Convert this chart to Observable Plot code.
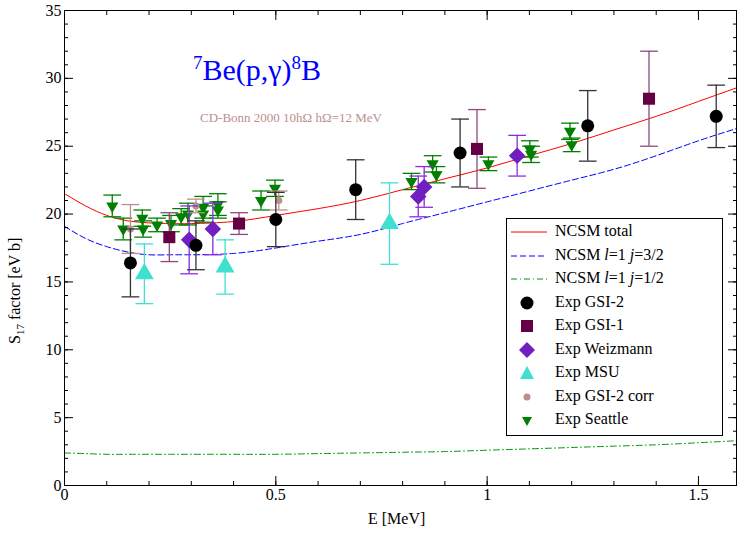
<!DOCTYPE html>
<html><head><meta charset="utf-8">
<script src="https://cdn.jsdelivr.net/npm/d3@7"></script>
<script src="https://cdn.jsdelivr.net/npm/@observablehq/plot@0.6"></script>
<style>
body{margin:0;background:#fff;font-family:"Liberation Serif",serif}
#wrap{position:relative;width:738px;height:533px}
.ov{position:absolute;white-space:nowrap}
#legend{position:absolute;left:506px;top:218px;width:215px;height:216px;border:1px solid #000;background:#fff;font-size:16px}
#legend .row{position:absolute;left:0;height:20px}
#legend span.t{position:absolute;left:48px}
</style></head><body>
<div id="wrap"></div>
<script>
// model curves (E in MeV)
const curveE     = [0, 0.05, 0.1, 0.15, 0.2, 0.25, 0.3, 0.4, 0.5, 0.6, 0.7, 0.8, 0.9, 1.0, 1.1, 1.2, 1.3, 1.4, 1.5, 1.59];
const ncsmTotal  = [21.5, 20.6, 19.9, 19.5, 19.35, 19.3, 19.3, 19.45, 19.9, 20.4, 21.0, 21.8, 22.6, 23.4, 24.3, 25.2, 26.2, 27.2, 28.3, 29.3];
const ncsm32     = [19.1, 18.2, 17.6, 17.2, 17.0, 17.0, 17.0, 17.1, 17.5, 18.0, 18.5, 19.3, 20.1, 20.9, 21.7, 22.5, 23.3, 24.3, 25.4, 26.3];
const ncsm12     = [2.4, 2.35, 2.3, 2.3, 2.3, 2.3, 2.3, 2.3, 2.3, 2.35, 2.4, 2.45, 2.5, 2.6, 2.7, 2.8, 2.9, 3.0, 3.15, 3.3];

// experiments: E, S, error
const gsi2E = [0.156, 0.311, 0.5, 0.689, 0.936, 1.238, 1.542];
const gsi2S = [16.4, 17.7, 19.6, 21.8, 24.5, 26.5, 27.2];
const gsi2D = [2.5, 1.8, 2.0, 2.2, 2.5, 2.6, 2.3];
const gsi1E = [0.248, 0.413, 0.976, 1.383];
const gsi1S = [18.3, 19.3, 24.8, 28.5];
const gsi1D = [1.8, 0.8, 2.9, 3.5];
const weizE = [0.295, 0.351, 0.837, 0.851, 1.071];
const weizS = [18.1, 18.9, 21.3, 22.0, 24.3];
const weizD = [2.5, 1.9, 1.5, 1.5, 1.5];
const msuE  = [0.189, 0.38, 0.769];
const msuS  = [15.6, 16.1, 19.3];
const msuD  = [2.2, 2.0, 3.0];
const corrE = [0.156, 0.311, 0.507];
const corrS = [18.9, 20.6, 21.0];
const corrD = [1.8, 0.5, 0.7];
const seaE  = [0.113, 0.139, 0.184, 0.186, 0.219, 0.252, 0.276, 0.292, 0.328, 0.328, 0.363, 0.363, 0.465, 0.498, 0.821, 0.871, 0.88, 1.003, 1.101, 1.104, 1.196, 1.2];
const seaS  = [20.6, 18.9, 19.7, 18.9, 19.2, 19.3, 19.8, 20.0, 20.5, 20.0, 20.7, 20.3, 21.0, 21.9, 22.4, 23.7, 22.9, 23.7, 24.8, 24.4, 26.1, 25.1];
const seaD  = [0.8, 0.8, 0.6, 0.6, 0.5, 0.6, 0.6, 0.8, 0.8, 0.6, 0.8, 0.6, 0.7, 0.6, 0.6, 0.6, 0.6, 0.5, 0.6, 0.6, 0.6, 0.5];

const curves = curveE.map((E, i) => ({E, tot: ncsmTotal[i], j32: ncsm32[i], j12: ncsm12[i]}));
const rows = (Es, Ss, Ds) => Es.map((E, i) => ({E, S: Ss[i], lo: Ss[i] - Ds[i], hi: Ss[i] + Ds[i]}));

const hline = {draw(c, size) { const w = Math.sqrt(size); c.moveTo(-w, 0); c.lineTo(w, 0); }};
const tri2 = {draw(c, size) { const r = Math.sqrt(size / 1.3); c.moveTo(0, r); c.lineTo(-r * 0.87, -r * 0.5); c.lineTo(r * 0.87, -r * 0.5); c.closePath(); }};

function errMarks(data, color, capR) {
  return [
    Plot.ruleX(data, {x: "E", y1: "lo", y2: "hi", stroke: color, strokeWidth: 1.3}),
    Plot.dot(data, {x: "E", y: "lo", symbol: hline, r: capR, stroke: color, strokeWidth: 1.3}),
    Plot.dot(data, {x: "E", y: "hi", symbol: hline, r: capR, stroke: color, strokeWidth: 1.3})
  ];
}
const gsi2 = rows(gsi2E, gsi2S, gsi2D), gsi1 = rows(gsi1E, gsi1S, gsi1D), weiz = rows(weizE, weizS, weizD);
const msu = rows(msuE, msuS, msuD), corr = rows(corrE, corrS, corrD), sea = rows(seaE, seaS, seaD);

const majX = [0, 0.5, 1, 1.5], minX = d3.range(0, 1.59, 0.1);
const majY = d3.range(0, 36, 5), minY = d3.range(0, 36, 1);
const ax = (o) => Plot.axisX({tickSize: -o.s, tickFormat: o.f ? (d => String(d)) : () => "", ticks: o.t, anchor: o.a, fontSize: 16, tickPadding: 12});
const ay = (o) => Plot.axisY({tickSize: -o.s, tickFormat: o.f ? String : () => "", ticks: o.t, anchor: o.a, fontSize: 16, tickPadding: 12});

const chart = Plot.plot({
  width: 738, height: 533,
  marginLeft: 64, marginRight: 2, marginTop: 10, marginBottom: 48,
  style: {fontFamily: "Liberation Serif, serif", fontSize: "16px", color: "#000"},
  x: {domain: [0, 1.59]},
  y: {domain: [0, 35]},
  marks: [
    Plot.line(curves, {x: "E", y: "tot", stroke: "#ff0000", strokeWidth: 1, curve: "natural"}),
    Plot.line(curves, {x: "E", y: "j32", stroke: "#0000ff", strokeWidth: 1, strokeDasharray: "6,3", curve: "natural"}),
    Plot.line(curves, {x: "E", y: "j12", stroke: "#009900", strokeWidth: 1, strokeDasharray: "6,3,1,3", curve: "natural"}),
    ...errMarks(sea, "#008000", 5),
    Plot.dot(sea, {x: "E", y: "S", symbol: tri2, r: 4.5, fill: "#008000"}),
    ...errMarks(corr, "#bc8f8f", 5),
    Plot.dot(corr, {x: "E", y: "S", r: 3.5, fill: "#bc8f8f"}),
    ...errMarks(msu, "#40e0d0", 5),
    Plot.dot(msu, {x: "E", y: "S", symbol: "triangle", r: 7, fill: "#40e0d0"}),
    ...errMarks(weiz, "#8a2be2", 5),
    Plot.dot(weiz, {x: "E", y: "S", symbol: "diamond2", r: 6.5, fill: "#7020c0", stroke: "#7020c0"}),
    ...errMarks(gsi1, "#8b4a7a", 5),
    Plot.dot(gsi1, {x: "E", y: "S", symbol: "square", r: 6.8, fill: "#660044"}),
    ...errMarks(gsi2, "#333", 5),
    Plot.dot(gsi2, {x: "E", y: "S", r: 6.5, fill: "#000"}),
    Plot.frame({stroke: "#000"}),
    ax({s: 9, t: majX, a: "bottom", f: true}), ax({s: 4, t: minX, a: "bottom"}),
    ax({s: 9, t: majX, a: "top"}), ax({s: 4, t: minX, a: "top"}),
    ay({s: 9, t: majY, a: "left", f: true}), ay({s: 4, t: minY, a: "left"}),
    ay({s: 9, t: majY, a: "right"}), ay({s: 4, t: minY, a: "right"})
  ]
});
chart.querySelectorAll("[aria-label='x-axis label'],[aria-label='y-axis label']").forEach(n => n.remove());
const wrap = document.getElementById("wrap");
wrap.appendChild(chart);
wrap.insertAdjacentHTML("beforeend", `
<div class="ov" style="left:193px;top:52px;font-size:30px;color:#0000ff"><sup style="font-size:19px">7</sup>Be(p,γ)<sup style="font-size:19px">8</sup>B</div>
<div class="ov" style="left:200px;top:110px;font-size:13px;color:#bc8f8f">CD-Bonn 2000 10hΩ hΩ=12 MeV</div>
<div class="ov" style="left:368px;top:510px;font-size:16px">E [MeV]</div>
<div class="ov" style="left:6px;top:344px;font-size:16px;transform:rotate(-90deg);transform-origin:0 0">S<sub style="font-size:11px">17</sub> factor [eV b]</div>
<div id="legend"></div>`);
const legendItems = [
  ["NCSM total", "line", "#ff0000", ""],
  ["NCSM <i>l</i>=1 <i>j</i>=3/2", "line", "#0000ff", "6,3"],
  ["NCSM <i>l</i>=1 <i>j</i>=1/2", "line", "#009900", "6,3,1,3"],
  ["Exp GSI-2", "circle", "#000"],
  ["Exp GSI-1", "square", "#660044"],
  ["Exp Weizmann", "diamond", "#7020c0"],
  ["Exp MSU", "triangle", "#40e0d0"],
  ["Exp GSI-2 corr", "small", "#bc8f8f"],
  ["Exp Seattle", "tri2", "#008000"]
];
const shapes = {
  circle: c => `<circle cx="20" cy="10" r="6.5" fill="${c}"/>`,
  square: c => `<rect x="14" y="4" width="12" height="12" fill="${c}"/>`,
  diamond: c => `<path d="M20 2L28 10L20 18L12 10Z" fill="${c}"/>`,
  triangle: c => `<path d="M20 3L27 16L13 16Z" fill="${c}"/>`,
  small: c => `<circle cx="20" cy="10" r="3.5" fill="${c}"/>`,
  tri2: c => `<path d="M20 16L25 7L15 7Z" fill="${c}"/>`
};
const leg = document.getElementById("legend");
legendItems.forEach(([t, kind, c, dash], i) => {
  const g = kind === "line" ? `<line x1="4" x2="40" y1="10" y2="10" stroke="${c}" stroke-dasharray="${dash}"/>` : shapes[kind](c);
  leg.insertAdjacentHTML("beforeend", `<div class="row" style="top:${3 + i * 23.5}px;width:215px"><svg width="44" height="20" style="position:absolute;left:0">${g}</svg><span class="t">${t}</span></div>`);
});
</script></body></html>
